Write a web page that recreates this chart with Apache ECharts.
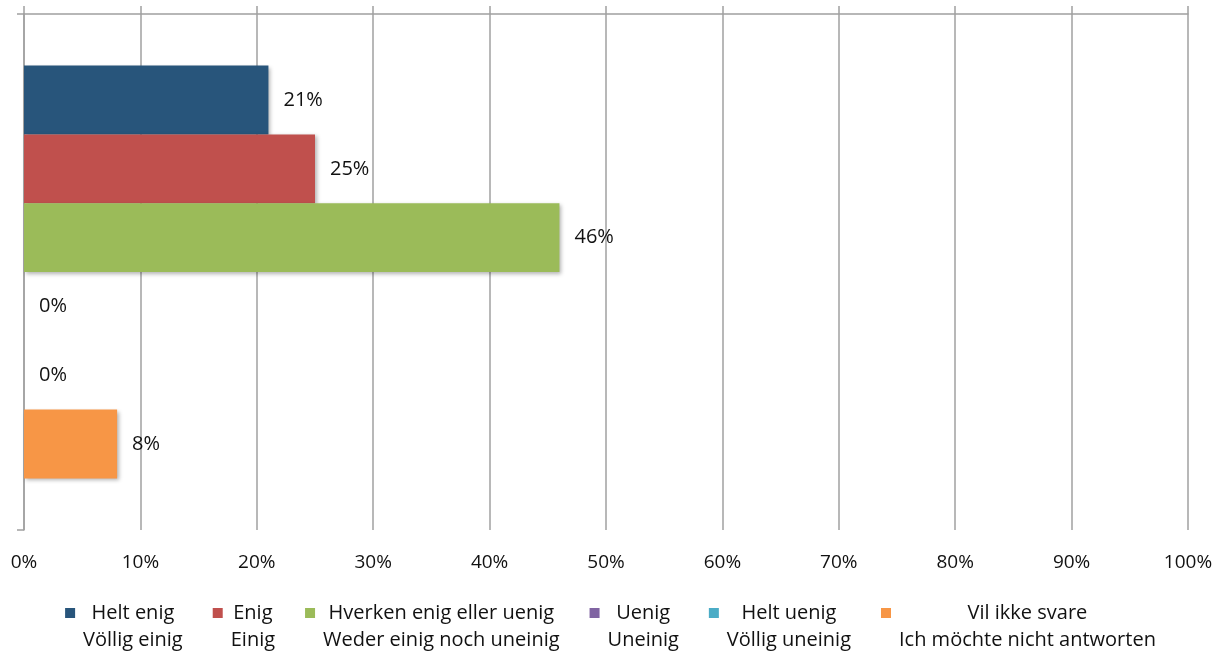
<!DOCTYPE html>
<html><head><meta charset="utf-8">
<script src="https://cdn.jsdelivr.net/npm/echarts@6/dist/echarts.min.js"></script>
<style>html,body{margin:0;padding:0;background:#fff}#c{width:1221px;height:661px}</style>
</head><body><div id="c"></div>
<script>
const categories = [''];
const seriesNamesNo = ['Helt enig', 'Enig', 'Hverken enig eller uenig', 'Uenig', 'Helt uenig', 'Vil ikke svare'];
const seriesNamesDe = ['Völlig einig', 'Einig', 'Weder einig noch uneinig', 'Uneinig', 'Völlig uneinig', 'Ich möchte nicht antworten'];
const seriesValues = [21, 25, 46, 0, 0, 8];
const seriesColors = ['#28557b', '#c0504d', '#9bbb59', '#8064a2', '#4bacc6', '#f79646'];
const xTicks = [0, 10, 20, 30, 40, 50, 60, 70, 80, 90, 100];

const FONT = '"Open Sans", sans-serif';
const TEXT = '#111';
const gridColor = '#a0a0a0';
const nameMap = {};
seriesNamesNo.forEach((n, i) => nameMap[n] = seriesNamesDe[i]);

const chart = echarts.init(document.getElementById('c'), null, {renderer: 'canvas'});
chart.setOption({
  animation: false,
  textStyle: {fontFamily: FONT},
  grid: {left: 24, right: 33, top: 14, bottom: 131, containLabel: false},
  legend: {
    bottom: 6,
    left: 'center',
    itemGap: 30,
    itemWidth: 13,
    itemHeight: 37,
    icon: 'path://M0,0h10v10h-10z M12.95,36.95h0.05v0.05h-0.05z',
    data: seriesNamesNo,
    formatter: n => '{a|' + n + '}\n{a|' + nameMap[n] + '}',
    textStyle: {
      fontFamily: FONT, fontSize: 20, color: TEXT,
      rich: {a: {align: 'center', fontSize: 20, lineHeight: 27, fontFamily: FONT, color: TEXT}}
    }
  },
  xAxis: [
    {
      type: 'value', position: 'top', min: xTicks[0], max: xTicks[xTicks.length - 1], interval: 10,
      axisLine: {show: true, lineStyle: {color: gridColor, width: 1.5}},
      axisTick: {show: true, length: 8, inside: false, lineStyle: {color: gridColor, width: 1.5}},
      axisLabel: {show: false},
      splitLine: {show: true, lineStyle: {color: gridColor, width: 1.5}}
    },
    {
      type: 'value', position: 'bottom', min: xTicks[0], max: xTicks[xTicks.length - 1], interval: 10,
      axisLine: {show: false}, axisTick: {show: false}, splitLine: {show: false},
      axisLabel: {show: true, margin: 23, fontSize: 19, color: TEXT, fontFamily: FONT, formatter: '{value}%'}
    }
  ],
  yAxis: {
    type: 'category', data: categories, inverse: true,
    axisLine: {show: true, lineStyle: {color: gridColor, width: 1.5}},
    axisTick: {show: true, length: 7, lineStyle: {color: gridColor, width: 1.5}},
    axisLabel: {show: false}
  },
  series: seriesNamesNo.map((n, i) => ({
    name: n, type: 'bar', xAxisIndex: 0,
    data: [seriesValues[i]],
    barGap: '0%', barCategoryGap: '20%',
    itemStyle: {color: seriesColors[i], shadowBlur: 4, shadowOffsetX: 2, shadowOffsetY: 2, shadowColor: 'rgba(0,0,0,0.3)'},
    label: {show: true, position: 'right', distance: 15, formatter: '{c}%', fontSize: 20, color: TEXT, fontFamily: FONT}
  }))
});
</script></body></html>
